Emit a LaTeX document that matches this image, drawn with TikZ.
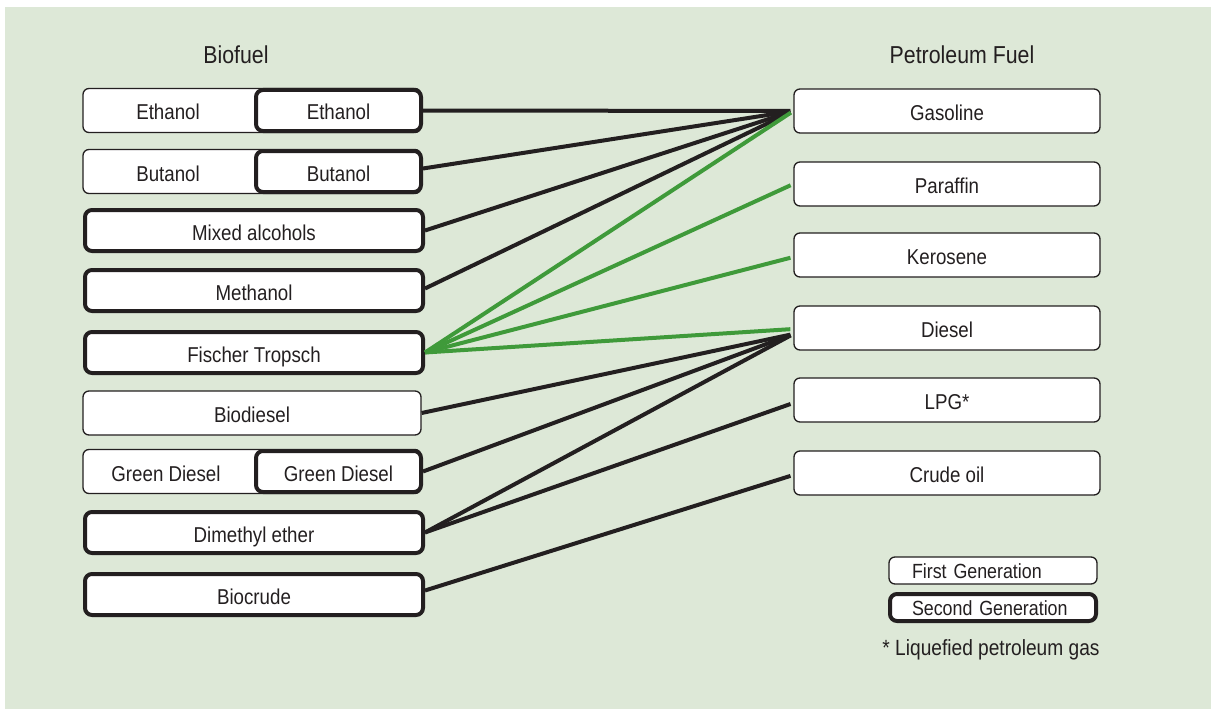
\documentclass[tikz,border=0pt]{standalone}
\usepackage{fontspec}
\setmainfont{Liberation Sans}[FakeStretch=0.87]
\usetikzlibrary{positioning}
\definecolor{Ink}{HTML}{231F20}
\definecolor{PanelFill}{HTML}{DDE8D7}
\definecolor{LinkGreen}{HTML}{3F9A3A}
\tikzset{
  first gen/.style={draw=Ink, fill=white, rounded corners=6pt, line width=1.3pt,
    minimum height=44pt, inner sep=0pt, font=\fontsize{21.5}{25}\selectfont, text=Ink,
    text height=19pt, text depth=0pt},
  second gen/.style={draw=Ink, fill=white, rounded corners=7pt, line width=4pt,
    minimum height=41pt, inner sep=0pt, font=\fontsize{21.5}{25}\selectfont, text=Ink,
    text height=19pt, text depth=0pt},
  fuel text/.style={font=\fontsize{21.5}{25}\selectfont, text=Ink, inner sep=0pt,
    text height=19pt, text depth=0pt},
  column title/.style={font=\fontsize{24.5}{29}\selectfont, text=Ink},
  legend text/.style={text width=162pt, align=left, inner xsep=0pt,
    font=\fontsize{20.5}{25}\selectfont, text height=15pt, text depth=0pt},
  note text/.style={font=\fontsize{22}{26}\selectfont, text=Ink, inner sep=0pt},
  black link/.style={draw=Ink, line width=4pt, shorten >=3pt},
  green link/.style={draw=LinkGreen, line width=4pt, shorten >=3pt},
}

\begin{document}
\begin{tikzpicture}[x=1pt, y=-1pt]
  \useasboundingbox (0,0) rectangle (1211,709);
  \fill[PanelFill] (5,7) rectangle (1211,709);

  % Column titles.
  \node[column title] (biotitle) at (236,55) {Biofuel};
  \node[column title] (pettitle) at (962,55) {Petroleum Fuel};

  % Biofuel column: thin box behind, thick box on top where both generations apply.
  \node[first gen, minimum width=338pt] (ethanolA) at (252,110.5) {};
  \node[fuel text] at (168,110.5) {Ethanol};
  \node[second gen, minimum width=165pt] (ethanol) at (338.5,110.5) {Ethanol};

  \node[first gen, minimum width=338pt] (butanolA) at (252,171.5) {};
  \node[fuel text] at (168,171.5) {Butanol};
  \node[second gen, minimum width=165pt] (butanol) at (338.5,171.5) {Butanol};

  \node[second gen, minimum width=338pt] (mixed) at (254,230.5) {Mixed alcohols};
  \node[second gen, minimum width=338pt] (methanol) at (254,290.5) {Methanol};
  \node[second gen, minimum width=338pt] (fischer) at (254,352.5) {Fischer Tropsch};
  \node[first gen, minimum width=338pt] (biodiesel) at (252,413) {Biodiesel};

  \node[first gen, minimum width=338pt] (greendieselA) at (252,471.5) {};
  \node[fuel text] at (166,471.5) {Green Diesel};
  \node[second gen, minimum width=165pt] (greendiesel) at (338.5,471.5) {Green Diesel};

  \node[second gen, minimum width=338pt] (dme) at (254,532.5) {Dimethyl ether};
  \node[second gen, minimum width=338pt] (biocrude) at (254,594.5) {Biocrude};

  % Petroleum fuel column.
  \node[first gen, minimum width=306pt] (gasoline) at (947,111) {Gasoline};
  \node[first gen, minimum width=306pt] (paraffin) at (947,184) {Paraffin};
  \node[first gen, minimum width=306pt] (kerosene) at (947,255) {Kerosene};
  \node[first gen, minimum width=306pt] (diesel) at (947,328) {Diesel};
  \node[first gen, minimum width=306pt] (lpg) at (947,400) {LPG*};
  \node[first gen, minimum width=306pt] (crude) at (947,473) {Crude oil};

  % Legend and footnote.
  \node[first gen, legend text, minimum width=208pt, minimum height=27pt] (legfirst) at (993,570.5) {First Generation};
  \node[second gen, legend text, minimum width=206pt, minimum height=27pt] (legsecond) at (993,607.5) {Second Generation};
  \node[note text] (footnote) at (991,649.5) {* Liquefied petroleum gas};

  % Links to gasoline.
  \draw[black link] (ethanol.east) -- (gasoline.west);
  \draw[black link] ([yshift=3pt]butanol.east) -- (gasoline.west);
  \draw[black link] (mixed.east) -- (gasoline.west);
  \draw[black link] ([yshift=2pt]methanol.east) -- (gasoline.west);

  % Links to diesel, LPG and crude oil.
  \draw[black link] (biodiesel.east) -- ([yshift=-6pt]diesel.west);
  \draw[black link] (greendiesel.east) -- ([yshift=-6pt]diesel.west);
  \draw[black link] (dme.east) -- ([yshift=-6pt]diesel.west);
  \draw[black link] (dme.east) -- ([yshift=-3pt]lpg.west);
  \draw[black link] ([yshift=4pt]biocrude.east) -- ([yshift=-2pt]crude.west);

  % Fischer Tropsch products.
  \draw[green link] (fischer.east) -- (gasoline.west);
  \draw[green link] (fischer.east) -- (paraffin.west);
  \draw[green link] (fischer.east) -- ([yshift=-2pt]kerosene.west);
  \draw[green link] (fischer.east) -- ([yshift=-1pt]diesel.west);
\end{tikzpicture}
\end{document}
